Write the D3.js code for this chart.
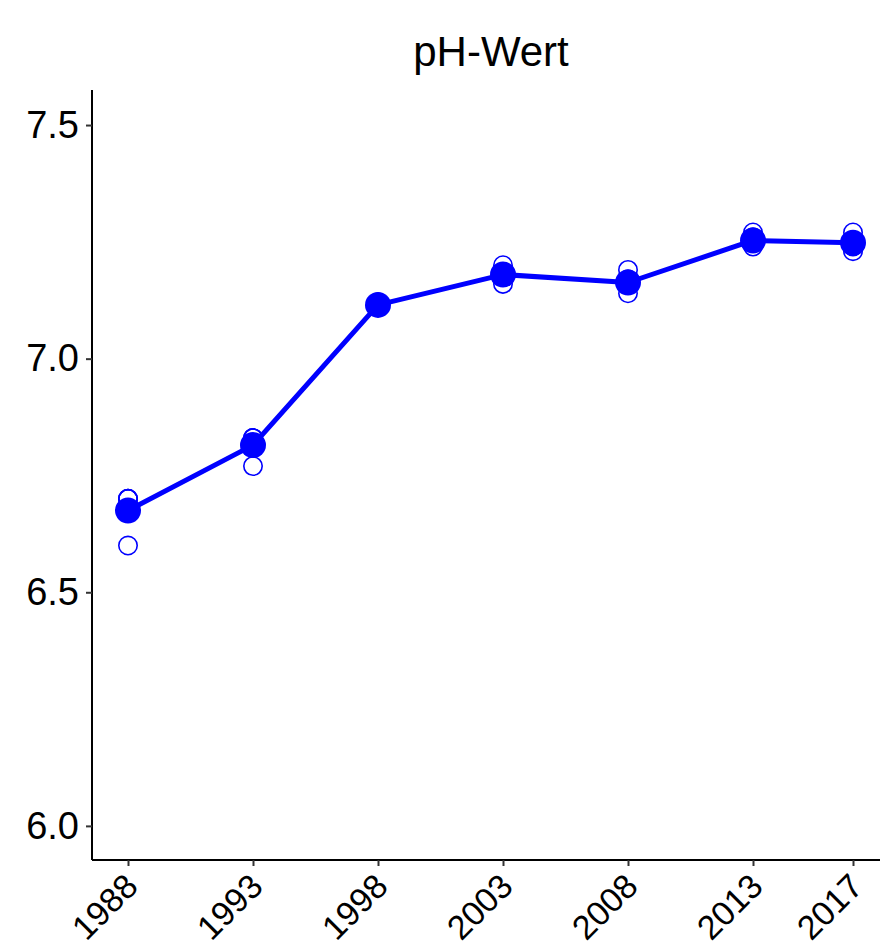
<!DOCTYPE html>
<html>
<head>
<meta charset="utf-8">
<script src="https://cdn.jsdelivr.net/npm/d3@7"></script>
<style>
  body { margin: 0; background: #fff; }
  text { font-family: "Liberation Sans", Arial, sans-serif; fill: #000; }
</style>
</head>
<body>
<svg id="chart" width="880" height="948"></svg>
<script>
const title = "pH-Wert";
const years = [1988, 1993, 1998, 2003, 2008, 2013, 2017];
const means = [6.675, 6.815, 7.115, 7.180, 7.163, 7.253, 7.248];
// individual replicate values per year (open circles)
const replicates = [
  [6.70, 6.70, 6.70, 6.60],
  [6.83, 6.83, 6.83, 6.77],
  [7.12, 7.11, 7.12, 7.11],
  [7.20, 7.16, 7.18, 7.18],
  [7.19, 7.14, 7.16, 7.17],
  [7.27, 7.24, 7.25, 7.26],
  [7.27, 7.23, 7.25, 7.24]
];
const yTicks = [6.0, 6.5, 7.0, 7.5];
const yTickLabels = ["6.0", "6.5", "7.0", "7.5"];
const xTickLabels = ["1988", "1993", "1998", "2003", "2008", "2013", "2017"];

const svg = d3.select("#chart");
const mLeft = 92, mRight = 879, mTop = 90, mBottom = 860;
const blue = "#0000FF";

const x = d3.scaleLinear().domain([1986.56, 2018.04]).range([mLeft, mRight]);
const y = d3.scaleLinear().domain([5.927, 7.575]).range([mBottom, mTop]);

// Title
svg.append("text")
  .attr("x", 491)
  .attr("y", 66)
  .attr("text-anchor", "middle")
  .style("font-size", "42px")
  .text(title);

// Y axis
const yAxis = d3.axisLeft(y).tickValues(yTicks)
  .tickFormat((d, i) => yTickLabels[i]).tickSize(6).tickPadding(7);
const gy = svg.append("g").attr("transform", `translate(${mLeft},0)`).call(yAxis);
gy.select(".domain").attr("d", `M0,${mTop}V${mBottom}`).attr("stroke", "#000").attr("stroke-width", 2);
gy.selectAll(".tick line").attr("stroke", "#333").attr("stroke-width", 2);
gy.selectAll(".tick text").style("font-size", "38px").attr("fill", "#000");

// X axis
const xAxis = d3.axisBottom(x).tickValues(years)
  .tickFormat((d, i) => xTickLabels[i]).tickSize(6);
const gx = svg.append("g").attr("transform", `translate(0,${mBottom})`).call(xAxis);
gx.select(".domain").attr("d", `M${mLeft},0H${mRight + 1}`).attr("stroke", "#000").attr("stroke-width", 2);
gx.selectAll(".tick line").attr("stroke", "#333").attr("stroke-width", 2);
gx.selectAll(".tick text")
  .style("font-size", "34px")
  .attr("fill", "#000")
  .attr("text-anchor", "end")
  .attr("x", 0).attr("y", 0).attr("dy", "0.72em")
  .attr("transform", "translate(-6,11) rotate(-45)");

// Mean line
const line = d3.line().x((d, i) => x(years[i])).y(d => y(d));
svg.append("path")
  .datum(means)
  .attr("d", line)
  .attr("fill", "none")
  .attr("stroke", blue)
  .attr("stroke-width", 5)
  .attr("stroke-linejoin", "round");

// Replicate open circles (under the means)
const reps = [];
replicates.forEach((arr, i) => arr.forEach(v => reps.push({ year: years[i], v })));
svg.selectAll("circle.rep")
  .data(reps)
  .join("circle")
  .attr("class", "rep")
  .attr("cx", d => x(d.year))
  .attr("cy", d => y(d.v))
  .attr("r", 9.2)
  .attr("fill", "none")
  .attr("stroke", blue)
  .attr("stroke-width", 1.6);

// Mean points
svg.selectAll("circle.mean")
  .data(means)
  .join("circle")
  .attr("class", "mean")
  .attr("cx", (d, i) => x(years[i]))
  .attr("cy", d => y(d))
  .attr("r", 13)
  .attr("fill", blue);
</script>
</body>
</html>
